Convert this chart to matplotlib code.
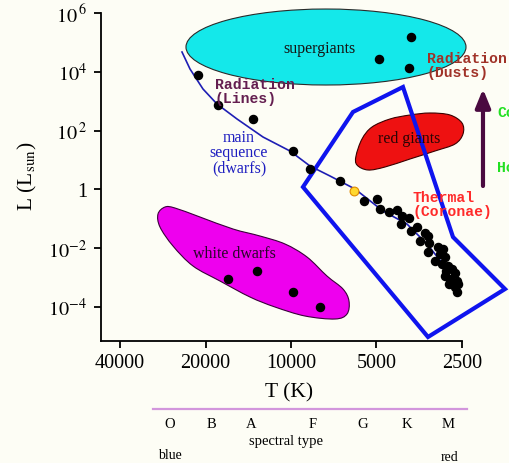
import numpy as np
import matplotlib
matplotlib.use("Agg")
import matplotlib.pyplot as plt
from matplotlib.patches import Ellipse, PathPatch, Polygon
from matplotlib.path import Path
from matplotlib.lines import Line2D
import matplotlib.transforms as mtransforms

plt.rcParams['font.family'] = 'serif'
plt.rcParams['font.serif'] = ['Liberation Serif', 'DejaVu Serif']
plt.rcParams['mathtext.fontset'] = 'stix'

# --- star data: log10 T (K), log10 L (L_sun) ---
ms_logT = [4.3275, 4.2570, 4.1338, 3.9930, 3.9331, 3.8275,
           3.6972, 3.7430, 3.6866, 3.6550, 3.6268, 3.6092, 3.5845, 3.6127,
           3.5564, 3.5775, 3.5282, 3.5176, 3.5458, 3.5141, 3.4824, 3.4648,
           3.5176, 3.4754, 3.4578, 3.4930, 3.4683, 3.4472, 3.4331, 3.4543,
           3.4226, 3.4578, 3.4402, 3.4155, 3.4437, 3.4120, 3.4226, 3.4155]
ms_logL = [3.891, 2.871, 2.395, 1.306, 0.694, 0.286,
           -0.327, -0.395, -0.667, -0.769, -0.701, -0.905, -0.973, -1.177,
           -1.279, -1.415, -1.483, -1.585, -1.755, -1.823, -1.959, -2.027,
           -2.129, -2.197, -2.299, -2.435, -2.537, -2.605, -2.707, -2.776,
           -2.844, -2.946, -3.048, -3.116, -3.218, -3.218, -3.320, -3.490]

sun_logT, sun_logL = 3.778, -0.046

sg_logT = [3.5775, 3.6900, 3.5845]
sg_logL = [5.184, 4.435, 4.129]

wd_logT = [4.2218, 4.1197, 3.9930, 3.8979]
wd_logL = [-3.048, -2.776, -3.490, -4.000]

# main sequence track
track_logT = [4.3838, 4.3556, 4.3099, 4.2606, 4.1901, 4.0986, 4.0035, 3.9331,
              3.8627, 3.7747, 3.6761, 3.5916, 3.5212, 3.4648, 3.4331, 3.4120]
track_logL = [4.673, 4.095, 3.415, 2.905, 2.395, 1.782, 1.306, 0.796,
              0.456, 0.014, -0.735, -1.177, -1.857, -2.537, -3.150, -3.354]

# region outlines
rg_outline = [(3.7711, 1.136), (3.7500, 1.714), (3.7148, 2.122), (3.6514, 2.395),
              (3.5810, 2.531), (3.5106, 2.599), (3.4402, 2.531), (3.3979, 2.259),
              (3.3944, 1.884), (3.4226, 1.544), (3.4930, 1.306), (3.5810, 1.034),
              (3.6690, 0.762), (3.7289, 0.660), (3.7676, 0.830)]
wd_outline = [(4.4683, -0.837), (4.4437, -0.599), (4.4084, -0.633), (4.3204, -0.939),
              (4.2042, -1.347), (4.1092, -1.585), (4.0211, -1.857), (3.9437, -2.299),
              (3.8733, -2.946), (3.8169, -3.388), (3.7958, -3.796), (3.8028, -4.238),
              (3.8451, -4.408), (3.9507, -4.306), (4.0563, -4.000), (4.1444, -3.660),
              (4.2500, -3.116), (4.3451, -2.605), (4.4155, -1.925), (4.4613, -1.279)]
box_outline = [(3.6057, 3.483), (3.7817, 2.633), (3.9578, 0.082),
               (3.5176, -5.020), (3.2465, -3.388), (3.4296, -1.619)]

x_ticks_T = [40000, 20000, 10000, 5000, 2500]
y_ticks = [6, 4, 2, 0, -2, -4]
y_tick_labels = ['$10^{\\,6}$', '$10^{4}$', '$10^{\\,2}$', '1', '$10^{-2}$', '$10^{-4}$']

spectral_types = ['O', 'B', 'A', 'F', 'G', 'K', 'M']
spectral_T = [26700, 19000, 13800, 8400, 5600, 3900, 2800]


def blob_path(points):
    """Closed smooth outline through points (Catmull-Rom as cubic Beziers)."""
    pts = np.asarray(points, dtype=float)
    n = len(pts)
    verts = [pts[0]]
    codes = [Path.MOVETO]
    for i in range(n):
        p0, p1, p2, p3 = pts[i - 1], pts[i], pts[(i + 1) % n], pts[(i + 2) % n]
        verts += [p1 + (p2 - p0) / 6, p2 - (p3 - p1) / 6, p2]
        codes += [Path.CURVE4] * 3
    return Path(verts, codes)


bg = '#fdfdf5'
fig = plt.figure(figsize=(5.09, 4.64), dpi=100, facecolor=bg)
ax = fig.add_axes([101 / 509, 122 / 464, 408 / 509, 342 / 464])
ax.patch.set_alpha(0)

xmin, xmax = 4.669, 3.2324
ymin, ymax = -5.156, 6.476
ax.set_xlim(xmin, xmax)
ax.set_ylim(ymin, ymax)

# regions
ax.add_patch(Ellipse((3.8768, 4.843), 0.986, 2.585, facecolor='#14e8ea',
                     edgecolor='#2a2a2a', lw=0.8, zorder=1))
ax.add_patch(PathPatch(blob_path(rg_outline), facecolor='#ee1111',
                       edgecolor='#3a0000', lw=0.8, zorder=1))
ax.add_patch(PathPatch(blob_path(wd_outline), facecolor='#ee00ee',
                       edgecolor='#3a003a', lw=0.8, zorder=1))

# main sequence track and stars
ax.plot(track_logT, track_logL, color='#1e1eb4', lw=1.2, zorder=2)
ax.add_patch(Polygon(box_outline, closed=True, fill=False, edgecolor='#0f14ee',
                     lw=3.0, joinstyle='miter', zorder=3))
ax.scatter(ms_logT, ms_logL, s=34, color='black', zorder=4)
ax.scatter(sg_logT, sg_logL, s=34, color='black', zorder=4)
ax.scatter(wd_logT, wd_logL, s=34, color='black', zorder=4)
ax.scatter([sun_logT], [sun_logL], s=40, facecolor='#ffd830',
           edgecolor='#e08a00', lw=0.8, zorder=5)

# region names
ax.text(3.9014, 4.810, 'supergiants', fontsize=11.5, color='#141414',
        ha='center', va='center', zorder=6)
ax.text(3.5845, 1.748, 'red giants', fontsize=11.5, color='#2a0505',
        ha='center', va='center', zorder=6)
ax.text(4.2007, -2.163, 'white dwarfs', fontsize=11.5, color='#2a052a',
        ha='center', va='center', zorder=6)
ax.text(4.1831, 1.272, 'main\nsequence\n(dwarfs)', fontsize=11.5, color='#1e1ec0',
        ha='center', va='center', linespacing=0.95, zorder=6)

# emission mechanisms
mono = dict(family='Liberation Mono', fontsize=10.6, fontweight='bold',
            ha='left', va='center', linespacing=1.0, zorder=6)
ax.text(4.2676, 3.330, 'Radiation\n(Lines)', color='#641e50', **mono)
ax.text(3.5212, 4.248, 'Radiation\n(Dusts)', color='#a03228', **mono)
ax.text(3.5705, -0.480, 'Thermal\n(Coronae)', color='#ff2a2a', **mono)
ax.text(3.2747, 2.633, 'Cool', color='#22e022', **mono)
ax.text(3.2747, 0.762, 'Hot', color='#22e022', **mono)

ax.annotate('', xy=(3.324, 3.415), xytext=(3.324, 0.116),
            arrowprops=dict(arrowstyle='-|>,head_length=1.1,head_width=0.45',
                            color='#4a0a40', lw=3.0, shrinkA=0, shrinkB=0),
            zorder=6)

# axes styling
for side in ('top', 'right'):
    ax.spines[side].set_visible(False)
ax.spines['left'].set_bounds(ymin, 6)
ax.spines['bottom'].set_bounds(xmin, np.log10(2500))
for side in ('left', 'bottom'):
    ax.spines[side].set_linewidth(1.3)

ax.set_xticks(np.log10(x_ticks_T))
ax.set_xticklabels([str(t) for t in x_ticks_T])
ax.set_yticks(y_ticks)
ax.set_yticklabels(y_tick_labels)
ax.tick_params(axis='x', length=5, width=1.3, pad=4, labelsize=14.5)
ax.tick_params(axis='y', length=5, width=1.3, pad=5, labelsize=14.5)

fig.text(289 / 509, 1 - 393 / 464, 'T (K)', fontsize=15.5, ha='center', va='center')
fig.text(27 / 509, 1 - 176 / 464, 'L (L$_{\\rm sun}$)', fontsize=15.5,
         rotation=90, ha='center', va='center')

# spectral type strip
fig.add_artist(Line2D([153 / 509, 467 / 509], [1 - 410 / 464, 1 - 410 / 464],
                      transform=fig.transFigure, color='#d296dc', lw=1.6))
strip = mtransforms.blended_transform_factory(ax.transData, fig.transFigure)
for name, t in zip(spectral_types, spectral_T):
    ax.text(np.log10(t), 1 - 424 / 464, name, transform=strip, fontsize=10.5,
            ha='center', va='center', clip_on=False)
fig.text(286 / 509, 1 - 442 / 464, 'spectral type', fontsize=10.5,
         ha='center', va='center')
fig.text(170 / 509, 1 - 456 / 464, 'blue', fontsize=10, ha='center', va='center')
fig.text(450 / 509, 1 - 458 / 464, 'red', fontsize=10, ha='center', va='center')

fig.savefig('out.png', dpi=100, facecolor=bg)
